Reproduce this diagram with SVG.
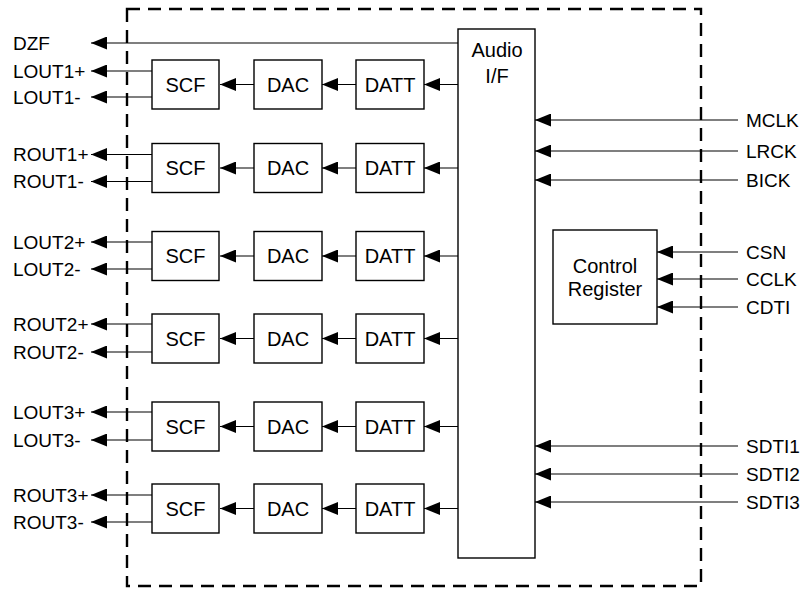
<svg xmlns="http://www.w3.org/2000/svg" width="812" height="590" viewBox="0 0 812 590">
<style>
.box{fill:#fff;stroke:#000;stroke-width:1.4}
.ln{stroke:#000;stroke-width:1.2;fill:none}
.dash{fill:none;stroke:#000;stroke-width:2.4;stroke-dasharray:13 8}
.lbl{font-family:"Liberation Sans",Arial,sans-serif;font-size:19px;fill:#000}
.bt{font-family:"Liberation Sans",Arial,sans-serif;font-size:20px;fill:#000;text-anchor:middle}
</style>
<defs>
<marker id="ah" markerWidth="16" markerHeight="13" refX="16" refY="6.5" orient="auto" markerUnits="userSpaceOnUse">
<path d="M0,0 L16,6.5 L0,13 z" fill="#000"/>
</marker>
</defs>
<rect width="812" height="590" fill="#fff"/>
<g id="boundary"><rect class="dash" x="127" y="9" width="574" height="577"/></g>

<g id="connectors">
<line class="ln" x1="458" y1="43" x2="91" y2="43" marker-end="url(#ah)"/>
<g id="row1-wires">
<line class="ln" x1="152" y1="71" x2="91" y2="71" marker-end="url(#ah)"/>
<line class="ln" x1="152" y1="97" x2="91" y2="97" marker-end="url(#ah)"/>
<line class="ln" x1="254" y1="84.5" x2="220" y2="84.5" marker-end="url(#ah)"/>
<line class="ln" x1="356" y1="84.5" x2="322" y2="84.5" marker-end="url(#ah)"/>
<line class="ln" x1="458" y1="84.5" x2="424" y2="84.5" marker-end="url(#ah)"/>
</g>
<g id="row2-wires">
<line class="ln" x1="152" y1="154.5" x2="91" y2="154.5" marker-end="url(#ah)"/>
<line class="ln" x1="152" y1="181.5" x2="91" y2="181.5" marker-end="url(#ah)"/>
<line class="ln" x1="254" y1="168" x2="220" y2="168" marker-end="url(#ah)"/>
<line class="ln" x1="356" y1="168" x2="322" y2="168" marker-end="url(#ah)"/>
<line class="ln" x1="458" y1="168" x2="424" y2="168" marker-end="url(#ah)"/>
</g>
<g id="row3-wires">
<line class="ln" x1="152" y1="242" x2="91" y2="242" marker-end="url(#ah)"/>
<line class="ln" x1="152" y1="269" x2="91" y2="269" marker-end="url(#ah)"/>
<line class="ln" x1="254" y1="256" x2="220" y2="256" marker-end="url(#ah)"/>
<line class="ln" x1="356" y1="256" x2="322" y2="256" marker-end="url(#ah)"/>
<line class="ln" x1="458" y1="256" x2="424" y2="256" marker-end="url(#ah)"/>
</g>
<g id="row4-wires">
<line class="ln" x1="152" y1="324" x2="91" y2="324" marker-end="url(#ah)"/>
<line class="ln" x1="152" y1="352" x2="91" y2="352" marker-end="url(#ah)"/>
<line class="ln" x1="254" y1="338.5" x2="220" y2="338.5" marker-end="url(#ah)"/>
<line class="ln" x1="356" y1="338.5" x2="322" y2="338.5" marker-end="url(#ah)"/>
<line class="ln" x1="458" y1="338.5" x2="424" y2="338.5" marker-end="url(#ah)"/>
</g>
<g id="row5-wires">
<line class="ln" x1="152" y1="412" x2="91" y2="412" marker-end="url(#ah)"/>
<line class="ln" x1="152" y1="440" x2="91" y2="440" marker-end="url(#ah)"/>
<line class="ln" x1="254" y1="426.5" x2="220" y2="426.5" marker-end="url(#ah)"/>
<line class="ln" x1="356" y1="426.5" x2="322" y2="426.5" marker-end="url(#ah)"/>
<line class="ln" x1="458" y1="426.5" x2="424" y2="426.5" marker-end="url(#ah)"/>
</g>
<g id="row6-wires">
<line class="ln" x1="152" y1="495" x2="91" y2="495" marker-end="url(#ah)"/>
<line class="ln" x1="152" y1="522" x2="91" y2="522" marker-end="url(#ah)"/>
<line class="ln" x1="254" y1="508.5" x2="220" y2="508.5" marker-end="url(#ah)"/>
<line class="ln" x1="356" y1="508.5" x2="322" y2="508.5" marker-end="url(#ah)"/>
<line class="ln" x1="458" y1="508.5" x2="424" y2="508.5" marker-end="url(#ah)"/>
</g>
<line class="ln" x1="738" y1="120" x2="535" y2="120" marker-end="url(#ah)"/>
<line class="ln" x1="738" y1="151" x2="535" y2="151" marker-end="url(#ah)"/>
<line class="ln" x1="738" y1="180" x2="535" y2="180" marker-end="url(#ah)"/>
<line class="ln" x1="738" y1="252" x2="657" y2="252" marker-end="url(#ah)"/>
<line class="ln" x1="738" y1="279" x2="657" y2="279" marker-end="url(#ah)"/>
<line class="ln" x1="738" y1="307" x2="657" y2="307" marker-end="url(#ah)"/>
<line class="ln" x1="738" y1="446" x2="535" y2="446" marker-end="url(#ah)"/>
<line class="ln" x1="738" y1="474" x2="535" y2="474" marker-end="url(#ah)"/>
<line class="ln" x1="738" y1="502" x2="535" y2="502" marker-end="url(#ah)"/>
</g>

<g id="audio-if"><rect class="box" x="458" y="29" width="77" height="529"/><text class="bt" x="497" y="57">Audio</text><text class="bt" x="497" y="83">I/F</text></g>
<g id="control-register"><rect class="box" x="553" y="230" width="104" height="94"/><text class="bt" x="605" y="273">Control</text><text class="bt" x="605" y="296">Register</text></g>

<g id="scf1"><rect class="box" x="152" y="60" width="67" height="49"/><text class="bt" x="185.5" y="91.5">SCF</text></g>
<g id="dac1"><rect class="box" x="254" y="60" width="68" height="49"/><text class="bt" x="288" y="91.5">DAC</text></g>
<g id="datt1"><rect class="box" x="356" y="60" width="68" height="49"/><text class="bt" x="390" y="91.5">DATT</text></g>

<g id="scf2"><rect class="box" x="152" y="143.5" width="67" height="49"/><text class="bt" x="185.5" y="175">SCF</text></g>
<g id="dac2"><rect class="box" x="254" y="143.5" width="68" height="49"/><text class="bt" x="288" y="175">DAC</text></g>
<g id="datt2"><rect class="box" x="356" y="143.5" width="68" height="49"/><text class="bt" x="390" y="175">DATT</text></g>

<g id="scf3"><rect class="box" x="152" y="231.5" width="67" height="49"/><text class="bt" x="185.5" y="263">SCF</text></g>
<g id="dac3"><rect class="box" x="254" y="231.5" width="68" height="49"/><text class="bt" x="288" y="263">DAC</text></g>
<g id="datt3"><rect class="box" x="356" y="231.5" width="68" height="49"/><text class="bt" x="390" y="263">DATT</text></g>

<g id="scf4"><rect class="box" x="152" y="314" width="67" height="49"/><text class="bt" x="185.5" y="345.5">SCF</text></g>
<g id="dac4"><rect class="box" x="254" y="314" width="68" height="49"/><text class="bt" x="288" y="345.5">DAC</text></g>
<g id="datt4"><rect class="box" x="356" y="314" width="68" height="49"/><text class="bt" x="390" y="345.5">DATT</text></g>

<g id="scf5"><rect class="box" x="152" y="402" width="67" height="49"/><text class="bt" x="185.5" y="433.5">SCF</text></g>
<g id="dac5"><rect class="box" x="254" y="402" width="68" height="49"/><text class="bt" x="288" y="433.5">DAC</text></g>
<g id="datt5"><rect class="box" x="356" y="402" width="68" height="49"/><text class="bt" x="390" y="433.5">DATT</text></g>

<g id="scf6"><rect class="box" x="152" y="484" width="67" height="49"/><text class="bt" x="185.5" y="515.5">SCF</text></g>
<g id="dac6"><rect class="box" x="254" y="484" width="68" height="49"/><text class="bt" x="288" y="515.5">DAC</text></g>
<g id="datt6"><rect class="box" x="356" y="484" width="68" height="49"/><text class="bt" x="390" y="515.5">DATT</text></g>

<g id="labels-left">
<text class="lbl" x="13" y="49.5">DZF</text>
<text class="lbl" x="13" y="77.5">LOUT1+</text>
<text class="lbl" x="13" y="103.5">LOUT1-</text>
<text class="lbl" x="13" y="161">ROUT1+</text>
<text class="lbl" x="13" y="188">ROUT1-</text>
<text class="lbl" x="13" y="248.5">LOUT2+</text>
<text class="lbl" x="13" y="275.5">LOUT2-</text>
<text class="lbl" x="13" y="330.5">ROUT2+</text>
<text class="lbl" x="13" y="358.5">ROUT2-</text>
<text class="lbl" x="13" y="418.5">LOUT3+</text>
<text class="lbl" x="13" y="446.5">LOUT3-</text>
<text class="lbl" x="13" y="501.5">ROUT3+</text>
<text class="lbl" x="13" y="528.5">ROUT3-</text>
</g>
<g id="labels-right">
<text class="lbl" x="746" y="126.5">MCLK</text>
<text class="lbl" x="746" y="157.5">LRCK</text>
<text class="lbl" x="746" y="186.5">BICK</text>
<text class="lbl" x="746" y="258.5">CSN</text>
<text class="lbl" x="746" y="285.5">CCLK</text>
<text class="lbl" x="746" y="313.5">CDTI</text>
<text class="lbl" x="746" y="452.5">SDTI1</text>
<text class="lbl" x="746" y="480.5">SDTI2</text>
<text class="lbl" x="746" y="508.5">SDTI3</text>
</g>
</svg>
